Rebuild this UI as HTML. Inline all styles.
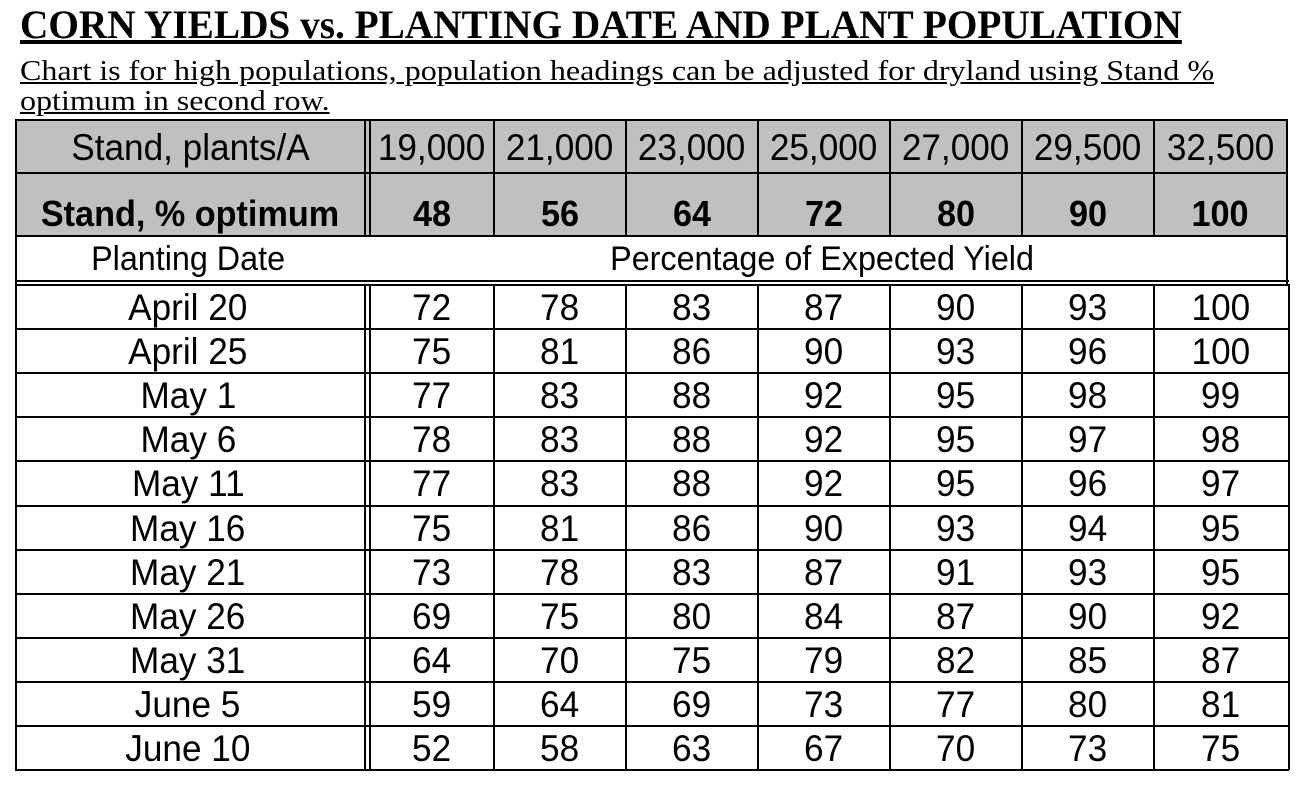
<!DOCTYPE html>
<html><head><style>
body{margin:0;width:1310px;height:788px;background:#fff;position:relative;overflow:hidden;font-family:"Liberation Sans",Arial,sans-serif;color:#000}
.t{position:absolute;left:20px;top:1px;font-family:"Liberation Serif",serif;font-weight:bold;font-size:40px;text-decoration:underline;white-space:nowrap;transform-origin:0 0;transform:scaleX(0.982)}
.s{position:absolute;left:20px;top:57px;font-family:"Liberation Serif",serif;font-size:28px;line-height:30px;text-decoration:underline;white-space:nowrap;transform-origin:0 0;transform:scaleX(1.145)}
.c{position:absolute;box-sizing:border-box;text-align:center;white-space:nowrap}
.c span{display:inline-block;transform:scaleX(0.95)}
</style></head><body>
<div class="t">CORN YIELDS vs. PLANTING DATE AND PLANT POPULATION</div>
<div class="s">Chart is for high populations, population headings can be adjusted for dryland using Stand %<br>optimum in second row.</div>
<div id="g"></div>
<script>
var g=document.getElementById('g'),h='';
var xs=[15,370,494,626,758,890,1022,1154,1287];
function box(x,y,w,hh,bg){h+='<div style="position:absolute;left:'+x+'px;top:'+y+'px;width:'+w+'px;height:'+hh+'px;background:'+bg+'"></div>';}
function txt(x1,x2,y,hh,t,fs,b){h+='<div class="c" style="left:'+x1+'px;width:'+(x2-x1)+'px;top:'+y+'px;height:'+hh+'px;line-height:'+hh+'px;font-size:'+fs+'px;'+(b?'font-weight:bold;':'')+'"><span>'+t+'</span></div>';}
box(15,120,1272,116,'#c0c0c0');
var pops=['19,000','21,000','23,000','25,000','27,000','29,500','32,500'];
var pct=['48','56','64','72','80','90','100'];
txt(15,365,122,52,'Stand, plants/A',37);
txt(15,365,186,56,'Stand, % optimum',36,1);
for(var i=0;i<7;i++){txt(xs[i+1],xs[i+2],122,52,pops[i],37);txt(xs[i+1],xs[i+2],186,56,pct[i],36,1);}
txt(15,361,236,46,'Planting Date',34);
txt(370,1275,236,46,'Percentage of Expected Yield',34);
var d=[['April 20',72,78,83,87,90,93,100],['April 25',75,81,86,90,93,96,100],['May 1',77,83,88,92,95,98,99],['May 6',78,83,88,92,95,97,98],['May 11',77,83,88,92,95,96,97],['May 16',75,81,86,90,93,94,95],['May 21',73,78,83,87,91,93,95],['May 26',69,75,80,84,87,90,92],['May 31',64,70,75,79,82,85,87],['June 5',59,64,69,73,77,80,81],['June 10',52,58,63,67,70,73,75]];
var y0=285,rh=44.1;
for(var r=0;r<11;r++){var y=y0+r*rh;for(var c=0;c<8;c++){txt(c==0?15:xs[c],c==0?361:xs[c+1],y+1,rh,d[r][c],37);}
 box(15,Math.round(y+rh)-1,1274,2,'#000');}
box(15,119,1273,2,'#000');box(15,172,1273,2,'#000');box(15,235,1273,2,'#000');
box(15,280,1274,2,'#000');box(15,284,1274,2,'#000');
box(15,119,2,651,'#000');box(1286,119,2,165,'#000');box(1288,284,2,486,'#000');
box(364,119,2,118,'#000');box(369,119,2,118,'#000');
box(364,284,2,486,'#000');box(369,284,2,486,'#000');
for(var k=2;k<8;k++){box(xs[k]-1,119,2,118,'#000');box(xs[k]-1,284,2,486,'#000');}
g.innerHTML=h;
</script>
</body></html>
